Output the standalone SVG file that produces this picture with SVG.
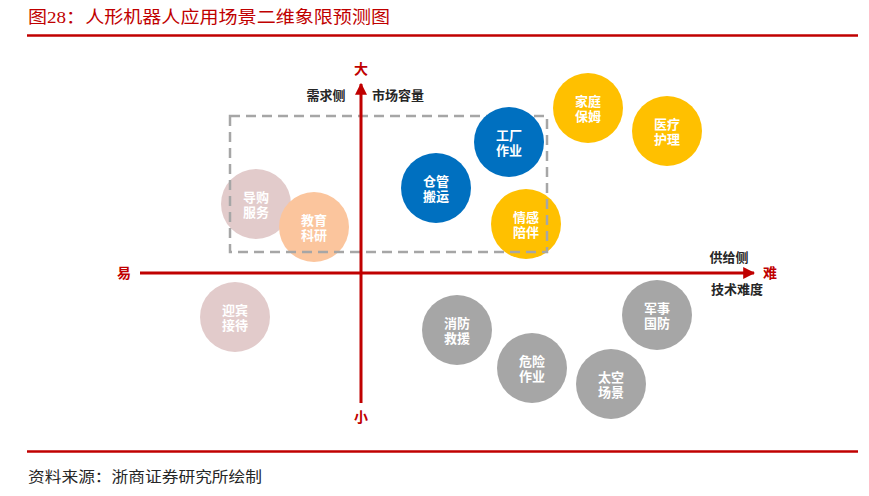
<svg xmlns="http://www.w3.org/2000/svg" width="869" height="496" viewBox="0 0 869 496">
<style>
.ser{font-family:"Liberation Serif","Noto Sans CJK SC",serif}
.ct{font-family:"Liberation Sans","Noto Sans CJK SC",sans-serif;font-size:13px;font-weight:bold;fill:#fff;text-anchor:middle}
.ax{font-family:"Noto Sans CJK SC",sans-serif;font-size:14px;font-weight:bold;fill:#c00000;text-anchor:middle}
.lb{font-family:"Noto Sans CJK SC",sans-serif;font-size:13px;font-weight:bold;fill:#262626;text-anchor:middle}
.blue{fill:#0070c0}.yel{fill:#ffc000}.gray{fill:#a6a6a6}.pink{fill:#e2cbcb}.org{fill:#fbc59d}
</style>
<defs>
<marker id="ah" viewBox="0 0 10 10" refX="9" refY="5" markerWidth="4" markerHeight="4" orient="auto" markerUnits="strokeWidth">
<path d="M0,0 L10,5 L0,10 z" fill="#c00000"/>
</marker>
</defs>
<rect width="869" height="496" fill="#fff"/>
<text class="ser" x="28" y="23" font-size="17" fill="#c00000" textLength="362" lengthAdjust="spacingAndGlyphs">图28：人形机器人应用场景二维象限预测图</text>
<line x1="27" y1="35.5" x2="858" y2="35.5" stroke="#c00000" stroke-width="2.5"/>
<line x1="27" y1="451.5" x2="858" y2="451.5" stroke="#c00000" stroke-width="2.5"/>
<text class="ser" x="28" y="482" font-size="15" fill="#262626" textLength="234" lengthAdjust="spacingAndGlyphs">资料来源：浙商证券研究所绘制</text>

<g id="node-daogou"><circle class="pink" cx="256" cy="204" r="35"/><text class="ct" x="256" y="201.5">导购<tspan x="256" dy="15.8">服务</tspan></text></g>
<g id="node-jiaoyu"><circle class="org" cx="314" cy="227" r="35"/><text class="ct" x="314" y="224.5">教育<tspan x="314" dy="15.8">科研</tspan></text></g>
<g id="node-qinggan"><circle class="yel" cx="526" cy="224" r="35"/><text class="ct" x="526" y="221.5">情感<tspan x="526" dy="15.8">陪伴</tspan></text></g>

<g id="connectors">
<rect x="230" y="116" width="317" height="136" fill="none" stroke="#a6a6a6" stroke-width="2.5" stroke-dasharray="10,6"/>
<line x1="361" y1="403" x2="361" y2="84" stroke="#c00000" stroke-width="3" marker-end="url(#ah)"/>
<line x1="140" y1="273" x2="754" y2="273" stroke="#c00000" stroke-width="3" marker-end="url(#ah)"/>
</g>

<g id="node-cangguan"><circle class="blue" cx="436" cy="188" r="35"/><text class="ct" x="436" y="185.5">仓管<tspan x="436" dy="15.8">搬运</tspan></text></g>
<g id="node-gongchang"><circle class="blue" cx="509" cy="142" r="35"/><text class="ct" x="509" y="139.5">工厂<tspan x="509" dy="15.8">作业</tspan></text></g>
<g id="node-jiating"><circle class="yel" cx="588" cy="108" r="35"/><text class="ct" x="588" y="105.5">家庭<tspan x="588" dy="15.8">保姆</tspan></text></g>
<g id="node-yiliao"><circle class="yel" cx="667" cy="131" r="35"/><text class="ct" x="667" y="128.5">医疗<tspan x="667" dy="15.8">护理</tspan></text></g>
<g id="node-yingbin"><circle class="pink" cx="235" cy="317" r="35"/><text class="ct" x="235" y="314.5">迎宾<tspan x="235" dy="15.8">接待</tspan></text></g>
<g id="node-xiaofang"><circle class="gray" cx="457" cy="330" r="35"/><text class="ct" x="457" y="327.5">消防<tspan x="457" dy="15.8">救援</tspan></text></g>
<g id="node-weixian"><circle class="gray" cx="532" cy="368" r="35"/><text class="ct" x="532" y="365.5">危险<tspan x="532" dy="15.8">作业</tspan></text></g>
<g id="node-taikong"><circle class="gray" cx="611" cy="384" r="35"/><text class="ct" x="611" y="381.5">太空<tspan x="611" dy="15.8">场景</tspan></text></g>
<g id="node-junshi"><circle class="gray" cx="657" cy="315" r="35"/><text class="ct" x="657" y="312.5">军事<tspan x="657" dy="15.8">国防</tspan></text></g>

<g id="labels">
<text class="ax" x="361" y="74">大</text>
<text class="ax" x="361" y="422">小</text>
<text class="ax" x="124" y="278">易</text>
<text class="ax" x="770" y="278">难</text>
<text class="lb" x="326" y="100">需求侧</text>
<text class="lb" x="398" y="100">市场容量</text>
<text class="lb" x="729" y="262">供给侧</text>
<text class="lb" x="737" y="294">技术难度</text>
</g>
</svg>
